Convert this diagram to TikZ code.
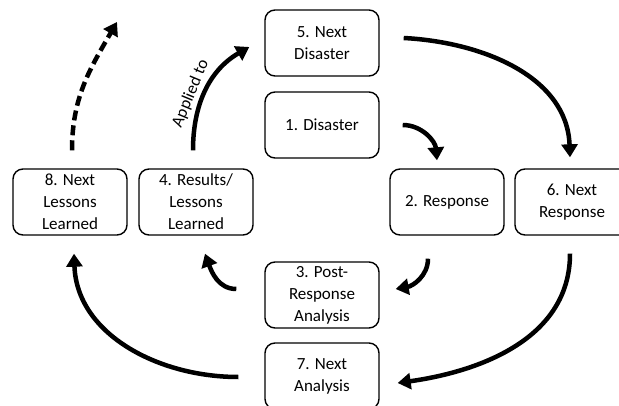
\documentclass[tikz,border=0pt]{standalone}
\usepackage{fontspec}
\setmainfont{Carlito}
\usetikzlibrary{arrows.meta,positioning,calc}
\tikzset{
  stage/.style   ={draw,rounded corners=10pt,line width=1.4pt,minimum width=114pt,
                   minimum height=66pt,align=center,inner sep=2pt,
                   font=\fontsize{17}{22}\selectfont},
  flow/.style    ={-{Triangle[length=13pt,width=16pt]},line width=4.5pt},
  flowdash/.style={flow,dash pattern=on 10pt off 5pt},
  lbl/.style     ={font=\fontsize{17}{20}\selectfont,inner sep=3pt},
}
\begin{document}
\begin{tikzpicture}[x=1pt,y=1pt]
  \clip (0,0) rectangle (619,405);
  % stages of the two cycles
  \node[stage] (five)  at (322,362) {5. Next\\Disaster};
  \node[stage] (one)   at (322,280) {1. Disaster};
  \node[stage] (eight) at (70,203)  {8. Next\\Lessons\\Learned};
  \node[stage] (four)  at (196,203) {4. Results/\\Lessons\\Learned};
  \node[stage] (two)   at (447,203) {2. Response};
  \node[stage] (six)   at (572,203) {6. Next\\Response};
  \node[stage] (three) at (322,110) {3. Post-\\Response\\Analysis};
  \node[stage] (seven) at (322,29)  {7. Next\\Analysis};
  \coordinate (beyond) at (117,383);
  % first cycle
  \draw[flow] ([xshift=23]one.east) to[out=0,in=95] ([shift={(-10,8)}]two.north);
  \draw[flow] ([shift={(-19,-23)}]two.south) to[out=-90,in=10] ([shift={(16,6)}]three.east);
  \draw[flow] ([shift={(-28,6)}]three.west) to[out=180,in=-70] ([shift={(9,-18)}]four.south);
  \draw[flow] ([shift={(-3,18)}]four.north) to[out=90,in=210]
    node[lbl,sloped,above,pos=0.42]{Applied to} ([shift={(-15,-4)}]five.west);
  % second cycle
  \draw[flow] ([shift={(24,5)}]five.east) to[out=-3,in=92] ([shift={(-2,11)}]six.north);
  \draw[flow] ([shift={(-2,-18)}]six.south) to[out=-90,in=8] ([shift={(18,-7)}]seven.east);
  \draw[flow] ([shift={(-26,-1)}]seven.west) to[out=180,in=-88] ([shift={(4,-18)}]eight.south);
  \draw[flowdash] ([shift={(2,18)}]eight.north) to[out=90,in=240] (beyond);
\end{tikzpicture}
\end{document}
